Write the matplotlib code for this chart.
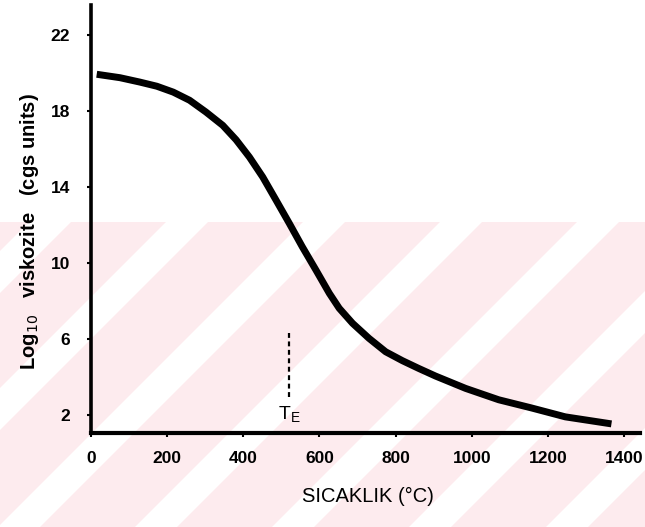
import matplotlib
matplotlib.use("Agg")
import matplotlib.pyplot as plt
from matplotlib.patches import Polygon, Rectangle

# ---- data ----
temperature = [15, 76, 128, 173, 216, 259, 302, 346, 381, 416, 451, 486, 521, 555,
               591, 626, 652, 687, 730, 774, 818, 861, 905, 984, 1071, 1157, 1246, 1367]
log_viscosity = [19.95, 19.77, 19.54, 19.32, 19.01, 18.58, 17.96, 17.26, 16.50, 15.59,
                 14.54, 13.32, 12.09, 10.86, 9.63, 8.41, 7.62, 6.83, 6.04, 5.33, 4.86,
                 4.45, 4.05, 3.4, 2.8, 2.37, 1.9, 1.53]
tg_temp = [521, 521]
tg_range = [2.95, 6.3]
x_ticks = [0, 200, 400, 600, 800, 1000, 1200, 1400]
x_tick_labels = ["0", "200", "400", "600", "800", "1000", "1200", "1400"]
y_ticks = [2, 6, 10, 14, 18, 22]
y_tick_labels = ["2", "6", "10", "14", "18", "22"]

W, H = 645, 527
FONT = ["Liberation Sans", "DejaVu Sans"]

fig = plt.figure(figsize=(W / 100, H / 100), dpi=100)
fig.patch.set_facecolor("white")

# ---- watermark background (pale pink with white diagonal bands) ----
def px(x, y):
    return (x / W, 1 - y / H)

pink = "#fdebee"
top_y = 222
fig.patches.append(Rectangle(px(0, H), 1, 1 - top_y / H, transform=fig.transFigure,
                             facecolor=pink, edgecolor="none", zorder=-2))
drop = H - top_y
for x0 in [-108, 29, 166, 303, 440, 577, 714, 851]:
    w = 42
    poly = Polygon([px(x0, top_y), px(x0 + w, top_y), px(x0 + w - drop, H), px(x0 - drop, H)],
                   closed=True, transform=fig.transFigure, facecolor="white",
                   edgecolor="none", zorder=-1)
    fig.patches.append(poly)

# ---- axes ----
ax = fig.add_axes([91 / W, (H - 433) / H, (640 - 91) / W, (433 - 5) / H])
ax.set_zorder(1)
ax.set_facecolor("none")
ax.set_xlim(0, 1442)
ax.set_ylim(1.05, 23.6)

ax.plot(temperature, log_viscosity, color="black", lw=5.0, solid_capstyle="butt",
        solid_joinstyle="round", zorder=3)
ax.plot(tg_temp, tg_range, color="black", lw=1.6, linestyle=(0, (2.2, 1.6)), zorder=3)
ax.text(521, 2.05, r"$\mathregular{T_E}$", ha="center", va="center", fontsize=14,
        family=FONT, color="black")

for s in ["top", "right"]:
    ax.spines[s].set_visible(False)
ax.spines["left"].set_linewidth(2.6)
ax.spines["bottom"].set_linewidth(3.0)

ax.set_xticks(x_ticks)
ax.set_xticklabels(x_tick_labels)
ax.set_yticks(y_ticks)
ax.set_yticklabels(y_tick_labels)
ax.tick_params(axis="both", direction="out", length=3, width=1.5, colors="black")
ax.tick_params(axis="x", pad=10)
ax.tick_params(axis="y", pad=12)
for lab in ax.get_xticklabels() + ax.get_yticklabels():
    lab.set_family(FONT)
    lab.set_fontweight("bold")
    lab.set_fontsize(12.5)

fig.text(368 / W, 1 - 496 / H, "SICAKLIK (°C)", ha="center", va="center",
         fontsize=14.5, family=FONT, color="black")
fig.text(30 / W, 1 - 232 / H, r"Log$_{10}$   viskozite   (cgs units)", ha="center",
         va="center", rotation=90, fontsize=14.5, fontweight="bold",
         family=FONT, color="black")

fig.savefig("out.png", dpi=100)
